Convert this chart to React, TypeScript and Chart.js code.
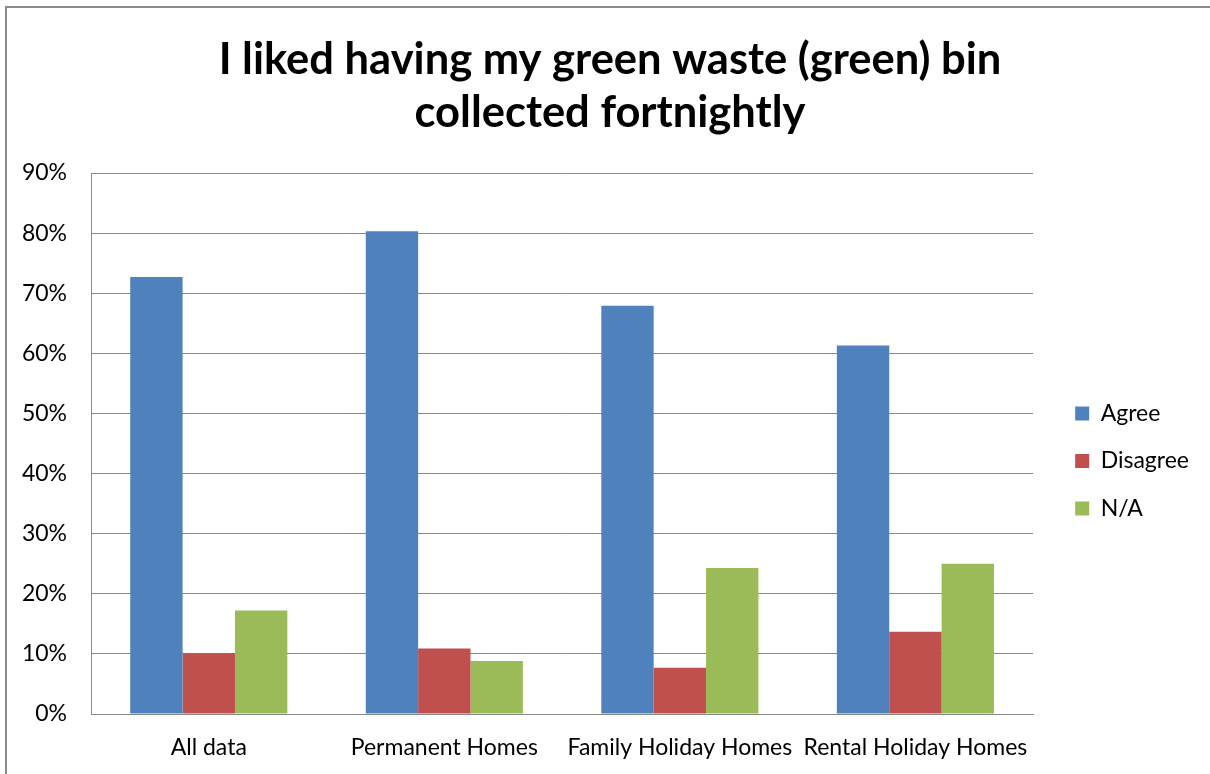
import React, { useEffect, useRef } from "react";
import { Chart, registerables } from "chart.js";

Chart.register(...registerables);

const titleLines = ["I liked having my green waste (green) bin", "collected fortnightly"];
const categories = ["All data", "Permanent Homes", "Family Holiday Homes", "Rental Holiday Homes"];
const agree = [72.7, 80.3, 67.9, 61.3];
const disagree = [10.1, 10.9, 7.7, 13.7];
const notApplicable = [17.2, 8.8, 24.3, 25.0];
const seriesNames = ["Agree", "Disagree", "N/A"];
const seriesColors = ["#4F81BD", "#C0504D", "#9BBB59"];

const FONT = "Lato, 'Open Sans', sans-serif";

const borderPlugin = {
  id: "outerBorder",
  beforeDraw(chart: any) {
    const ctx = chart.ctx;
    ctx.save();
    ctx.fillStyle = "#ffffff";
    ctx.fillRect(0, 0, chart.width, chart.height);
    ctx.strokeStyle = "#8a8a8a";
    ctx.lineWidth = 2;
    ctx.beginPath();
    ctx.moveTo(6, chart.height);
    ctx.lineTo(6, 7);
    ctx.lineTo(chart.width, 7);
    ctx.stroke();
    ctx.restore();
  },
};

export default function App() {
  const ref = useRef<HTMLCanvasElement | null>(null);
  useEffect(() => {
    if (!ref.current) return;
    const chart = new Chart(ref.current, {
      type: "bar",
      data: {
        labels: categories,
        datasets: [agree, disagree, notApplicable].map((d, i) => ({
          label: seriesNames[i],
          data: d,
          backgroundColor: seriesColors[i],
          borderWidth: 0,
          categoryPercentage: 0.667,
          barPercentage: 1.0,
        })),
      },
      options: {
        animation: false,
        responsive: false,
        devicePixelRatio: 1,
        layout: { padding: { left: 21, right: 11, top: 0, bottom: 0 } },
        plugins: {
          tooltip: { enabled: false },
          title: {
            display: true,
            text: titleLines,
            color: "#000000",
            font: { family: FONT, size: 43.5, weight: "bold", lineHeight: 53 / 43.5 },
            padding: { top: 33, bottom: 34 },
          },
          legend: {
            position: "right",
            fullSize: false,
            align: "center",
            title: {
              display: true,
              text: " ",
              font: { family: FONT, size: 20, lineHeight: 1.2 },
              padding: { top: 5, bottom: 6 },
            },
            labels: {
              boxWidth: 14,
              boxHeight: 14,
              padding: 24.5,
              color: "#000000",
              font: { family: FONT, size: 23 },
            },
          },
        },
        scales: {
          x: {
            grid: { display: false, drawTicks: false },
            border: { display: true, color: "#8a8a8a", width: 1 },
            ticks: { color: "#000000", padding: 20, maxRotation: 0, autoSkip: false, font: { family: FONT, size: 23 } },
            afterFit: (s: any) => { s.height = 60; },
          },
          y: {
            min: 0,
            max: 90,
            grid: { color: "#8a8a8a", lineWidth: 1, drawTicks: false },
            border: { display: true, color: "#8a8a8a", width: 1 },
            ticks: {
              stepSize: 10,
              padding: 24,
              color: "#000000",
              font: { family: FONT, size: 23 },
              callback: (v: any) => `${v}%`,
            },
            afterFit: (s: any) => { s.width = 70; },
          },
          spacer: {
            type: "linear",
            position: "right",
            display: true,
            grid: { display: false, drawTicks: false },
            border: { display: false },
            ticks: { display: false },
            afterFit: (s: any) => { s.width = 17.5; },
          },
        },
      } as any,
      plugins: [borderPlugin],
    });
    return () => chart.destroy();
  }, []);
  return (
    <div style={{ position: "absolute", left: 0, top: 0, width: 1210, height: 774 }}>
      <canvas ref={ref} width={1210} height={774} />
    </div>
  );
}
